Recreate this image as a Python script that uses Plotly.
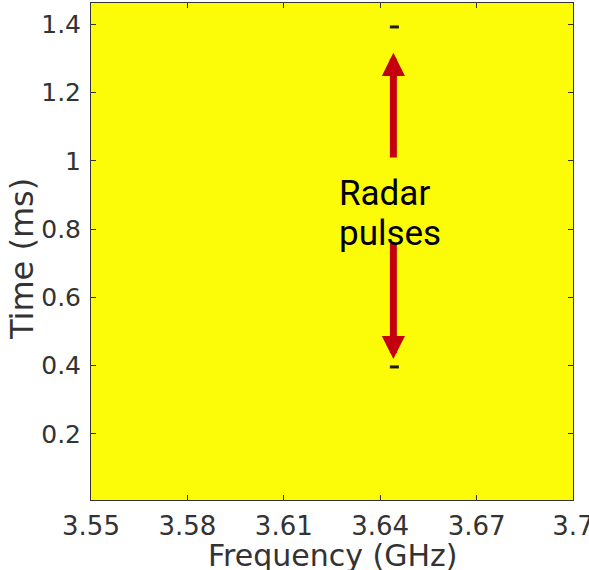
import plotly.graph_objects as go

# ---- data ----
freq_range_ghz = [3.55, 3.70]
time_range_ms = [0.006, 1.463]
x_tick_vals = [3.55, 3.58, 3.61, 3.64, 3.67, 3.70]
x_tick_text = ["3.55", "3.58", "3.61", "3.64", "3.67", "3.7"]
y_tick_vals = [0.2, 0.4, 0.6, 0.8, 1.0, 1.2, 1.4]
y_tick_text = ["0.2", "0.4", "0.6", "0.8", "1", "1.2", "1.4"]

pulse_freq_ghz = 3.6443
pulse_bw_ghz = 0.0028
pulse_times_ms = [0.396, 1.393]
pulse_len_ms = 0.011
floor_db = -60.0
pulse_db = -20.0

# build the spectrogram grid (cell edges) from the pulse description
x_edges = [freq_range_ghz[0] - 0.01, pulse_freq_ghz - pulse_bw_ghz / 2,
           pulse_freq_ghz + pulse_bw_ghz / 2, freq_range_ghz[1] + 0.01]
y_edges = [0.0]
for t in pulse_times_ms:
    y_edges += [t - pulse_len_ms / 2, t + pulse_len_ms / 2]
y_edges.append(1.5)

z = []
for i in range(len(y_edges) - 1):
    is_pulse_row = (i % 2 == 1)
    z.append([floor_db, pulse_db if is_pulse_row else floor_db, floor_db])

TXT = "#333333"
fig = go.Figure()
fig.add_trace(go.Heatmap(
    x=x_edges, y=y_edges, z=z,
    zmin=floor_db, zmax=pulse_db,
    colorscale=[[0, "rgb(253,252,8)"], [1, "rgb(28,28,8)"]],
    showscale=False, zsmooth=False, hoverinfo="skip",
))

# arrows and label
arrow_x = 3.6441
arrows = [  # (tail_y, tip_y)
    (1.006, 1.317),
    (0.762, 0.419),
]
for tail, tip in arrows:
    fig.add_annotation(
        x=arrow_x, y=tip, ax=arrow_x, ay=tail,
        xref="x", yref="y", axref="x", ayref="y",
        text="", showarrow=True, arrowhead=2, arrowsize=0.66,
        arrowwidth=7, arrowcolor="#c4000f", standoff=0,
    )

label_lines = [("Radar", 0.906), ("pulses", 0.786)]
for txt, yv in label_lines:
    fig.add_annotation(
        x=3.6265, y=yv, xref="x", yref="y", text=txt, showarrow=False,
        xanchor="left", yanchor="middle",
        font=dict(family="Roboto", size=35, color="black"),
    )

# axis titles
fig.add_annotation(
    x=0.5, y=-0.111, xref="paper", yref="paper", text="Frequency (GHz)",
    showarrow=False, xanchor="center", yanchor="middle",
    font=dict(family="DejaVu Sans", size=30, color=TXT),
)
fig.add_annotation(
    x=-0.143, y=0.485, xref="paper", yref="paper", text="Time (ms)",
    showarrow=False, xanchor="center", yanchor="middle", textangle=-90,
    font=dict(family="DejaVu Sans", size=32, color=TXT),
)

axis_common = dict(
    showgrid=False, zeroline=False, showline=True, linecolor=TXT,
    linewidth=1, mirror="ticks", ticks="inside", ticklen=5,
    tickcolor=TXT, tickwidth=1, automargin=False,
    ticklabeloverflow="allow",
)
fig.update_xaxes(
    range=freq_range_ghz, tickmode="array", tickvals=x_tick_vals,
    ticktext=x_tick_text, ticklabelstandoff=3,
    tickfont=dict(family="DejaVu Sans", size=26, color=TXT),
    **axis_common,
)
fig.update_yaxes(
    range=time_range_ms, tickmode="array", tickvals=y_tick_vals,
    ticktext=y_tick_text, ticklabelstandoff=4,
    tickfont=dict(family="DejaVu Sans", size=25, color=TXT),
    **axis_common,
)
fig.update_layout(
    width=589, height=570,
    margin=dict(l=91, r=16, t=3, b=70),
    paper_bgcolor="white", plot_bgcolor="white",
    showlegend=False,
)
fig.write_html("out.html")
